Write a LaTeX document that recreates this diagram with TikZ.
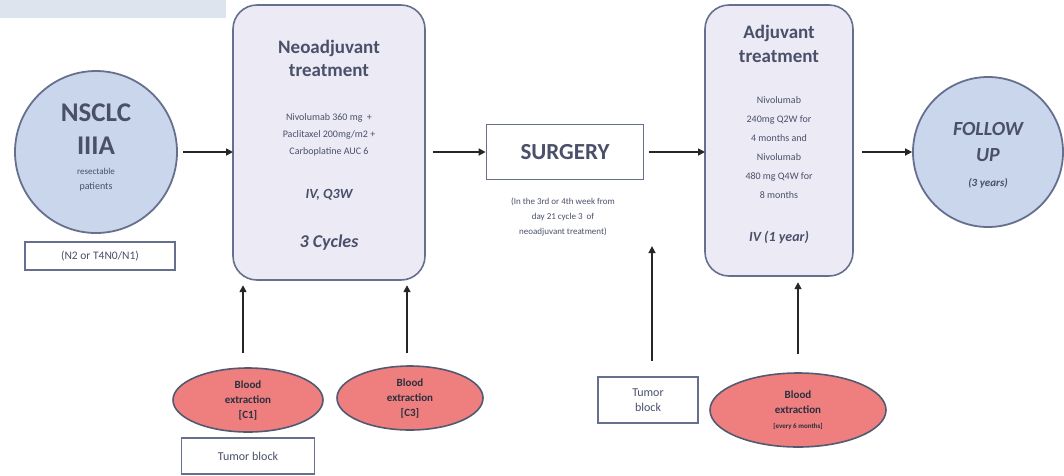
\documentclass[tikz,border=0pt]{standalone}
\usepackage{fontspec}
\setmainfont{Carlito}
\usetikzlibrary{arrows.meta,shapes.geometric}
\definecolor{txt}{HTML}{4A4F6A}
\definecolor{edge}{HTML}{66708E}
\definecolor{circfill}{HTML}{CAD6EC}
\definecolor{boxfill}{HTML}{ECEBF5}
\definecolor{redfill}{HTML}{EE7F7E}
\definecolor{banner}{HTML}{DDE4EE}
\tikzset{
  arr/.style={draw=black!85, line width=1.6pt, -{Triangle[length=7pt,width=7pt]}},
  phase/.style={draw=edge, line width=1.6pt, fill=boxfill, rounded corners=24pt},
  plain/.style={draw=edge, line width=1.8pt, fill=white},
  circ/.style={circle, draw=edge, line width=1.8pt, fill=circfill},
  blood/.style={ellipse, draw=edge!80!black, line width=1.6pt, fill=redfill},
  t/.style={text=txt, align=center, inner sep=0pt},
}
\newcommand{\fs}[1]{\fontsize{#1}{#1}\selectfont}
\begin{document}
\begin{tikzpicture}[x=1pt,y=-1pt]
\useasboundingbox (0,0) rectangle (1064,475);
\fill[banner] (0,0) rectangle (226,18);

% NSCLC circle
\node[circ, minimum size=162pt] (nsclc) at (96,152) {};
\node[t] (n1) at (96,113) {\fs{27}\bfseries NSCLC};
\node[t] (n2) at (96,146) {\fs{27}\bfseries IIIA};
\node[t] (n3) at (96,180) {\fs{9}resectable\\[3pt]patients};
\node[plain, minimum width=150pt, minimum height=28pt, t] (stage) at (100,256) {\fs{11.5}(N2 or T4N0/N1)};

% Neoadjuvant
\draw[phase] (233,5) rectangle (425,280);
\coordinate (neoL) at (233,152);
\coordinate (neoR) at (425,152);
\node[t] (neot) at (329,58) {\fs{19}\bfseries Neoadjuvant\\[7pt]\fs{19}\bfseries treatment};
\node[t] (neod) at (329,135) {\fs{10}Nivolumab 360 mg \ +\\[5pt]\fs{10}Paclitaxel 200mg/m2 +\\[5pt]\fs{10}Carboplatine AUC 6};
\node[t] (neoiv) at (329,195) {\fs{14}\bfseries\itshape IV, Q3W};
\node[t] (neoc) at (329,243) {\fs{18}\bfseries\itshape 3 Cycles};

% Surgery
\node[plain, minimum width=157pt, minimum height=55pt, t] (surg) at (565,152) {\fs{23}\bfseries SURGERY};
\node[t] (snote) at (563,217) {\fs{9}(In the 3rd or 4th week from\\[3pt]\fs{9}day 21 cycle 3 \ of\\[3pt]\fs{9}neoadjuvant treatment)};

% Adjuvant
\draw[phase] (705,5) rectangle (853,276);
\coordinate (adjL) at (705,152);
\coordinate (adjR) at (853,152);
\node[t] (adjt) at (779,44) {\fs{19}\bfseries Adjuvant\\[8pt]\fs{19}\bfseries treatment};
\node[t] (adjd) at (779,148) {\fs{10}Nivolumab\\[7pt]\fs{10}240mg Q2W for\\[7pt]\fs{10}4 months and\\[7pt]\fs{10}Nivolumab\\[7pt]\fs{10}480 mg Q4W for\\[7pt]\fs{10}8 months};
\node[t] (adjiv) at (779,237) {\fs{14}\bfseries\itshape IV (1 year)};

% Follow up
\node[circ, minimum size=150pt] (fu) at (988,152) {};
\node[t] (fu1) at (988,129) {\fs{20}\bfseries\itshape FOLLOW};
\node[t] (fu2) at (988,155) {\fs{20}\bfseries\itshape UP};
\node[t] (fu3) at (988,183) {\fs{11}\bfseries\itshape (3 years)};

% main arrows
\draw[arr] (nsclc.east) ++(5,0) -- (neoL);
\draw[arr] (neoR) ++(8,0) -- (surg.west);
\draw[arr] (surg.east) ++(5,0) -- (adjL);
\draw[arr] (adjR) ++(9,0) -- (fu.west);

% bottom elements
\node[blood, minimum width=150pt, minimum height=64pt] (b1) at (248,400) {};
\node[t, text=txt!60!black] (b1t) at (248,400) {\fs{11}\bfseries Blood\\[3pt]\fs{11}\bfseries extraction\\[3pt]\fs{11}\bfseries [C1]};
\node[blood, minimum width=146pt, minimum height=64pt] (b3) at (410,398) {};
\node[t, text=txt!60!black] (b3t) at (410,398) {\fs{11}\bfseries Blood\\[3pt]\fs{11}\bfseries extraction\\[3pt]\fs{11}\bfseries [C3]};
\node[plain, minimum width=133pt, minimum height=36pt, t] (tb1) at (248,456) {\fs{12}Tumor block};
\node[plain, minimum width=100pt, minimum height=46pt, t] (tb2) at (648,400) {\fs{12}Tumor\\[3pt]\fs{12}block};
\node[blood, minimum width=176pt, minimum height=74pt] (b6) at (798,410) {};
\node[t, text=txt!60!black] (b6t) at (798,410) {\fs{11}\bfseries Blood\\[3pt]\fs{11}\bfseries extraction\\[3pt]\fs{7}\bfseries [every 6 months]};

% up arrows
\draw[arr] (b1.north) ++(-5,-14) -- ++(0,-68);
\draw[arr] (b3.north) ++(-3,-12) -- ++(0,-68);
\draw[arr] (tb2.north) ++(4,-15) -- ++(0,-115);
\draw[arr] (b6.north) ++(0,-18) -- ++(0,-72);
\end{tikzpicture}
\end{document}
